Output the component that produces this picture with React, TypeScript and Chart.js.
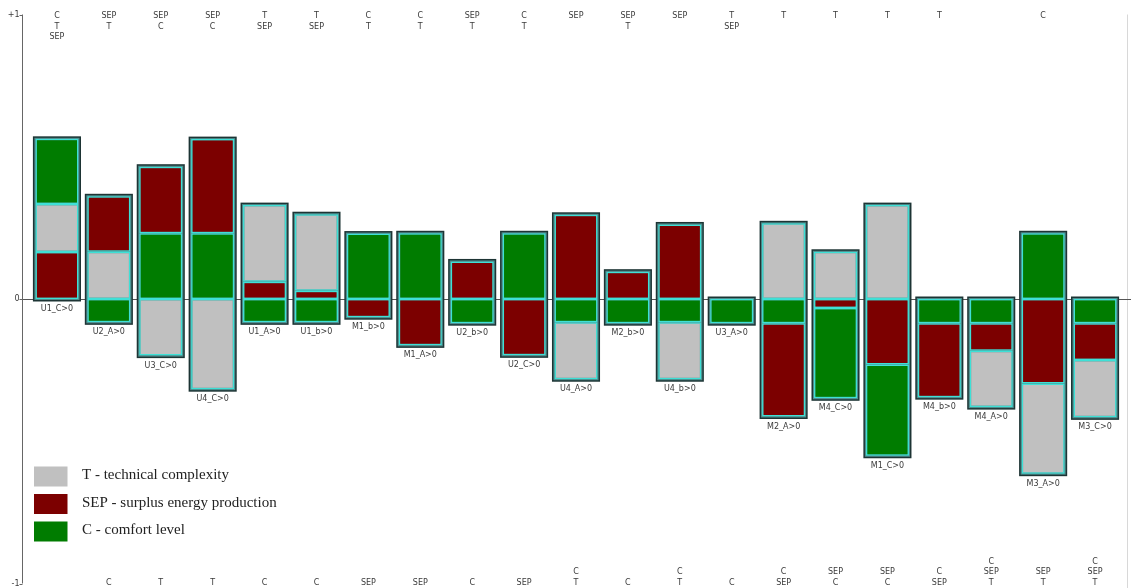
import { useEffect, useRef } from 'react';
import { Chart, registerables } from 'chart.js';

Chart.register(...registerables);

const categories = [
  'U1_C>0', 'U2_A>0', 'U3_C>0', 'U4_C>0', 'U1_A>0', 'U1_b>0', 'M1_b>0', 'M1_A>0',
  'U2_b>0', 'U2_C>0', 'U4_A>0', 'M2_b>0', 'U4_b>0', 'U3_A>0', 'M2_A>0', 'M4_C>0',
  'M1_C>0', 'M4_b>0', 'M4_A>0', 'M3_A>0', 'M3_C>0',
];

// T - technical complexity
const tValues = [
  0.169, 0.166, -0.199, -0.317, 0.269, 0.269, 0, 0,
  0, 0, -0.2, 0, -0.2, 0, 0.266, 0.166,
  0.33, 0, -0.198, -0.317, -0.202,
];

// SEP - surplus energy production
const sepValues = [
  0.165, 0.195, 0.234, 0.331, 0.061, 0.029, -0.064, -0.163,
  0.132, -0.198, 0.296, 0.096, 0.262, 0, -0.328, -0.032,
  -0.23, -0.26, -0.097, -0.297, -0.129,
];

// C - comfort level
const cValues = [
  0.229, -0.082, 0.231, 0.231, -0.082, -0.082, 0.23, 0.231,
  -0.085, 0.231, -0.082, -0.085, -0.082, -0.085, -0.085, -0.317,
  -0.321, -0.085, -0.085, 0.231, -0.085,
];

// labels above the plot (top of stack first) and below (nearest zero first)
const topLabels: string[][] = [
  ['C', 'T', 'SEP'], ['SEP', 'T'], ['SEP', 'C'], ['SEP', 'C'], ['T', 'SEP'], ['T', 'SEP'],
  ['C', 'T'], ['C', 'T'], ['SEP', 'T'], ['C', 'T'], ['SEP'], ['SEP', 'T'], ['SEP'],
  ['T', 'SEP'], ['T'], ['T'], ['T'], ['T'], [], ['C'], [],
];
const bottomLabels: string[][] = [
  [], ['C'], ['T'], ['T'], ['C'], ['C'], ['SEP'], ['SEP'], ['C'], ['SEP'], ['C', 'T'],
  ['C'], ['C', 'T'], ['C'], ['C', 'SEP'], ['SEP', 'C'], ['SEP', 'C'], ['C', 'SEP'],
  ['C', 'SEP', 'T'], ['SEP', 'T'], ['C', 'SEP', 'T'],
];

const yTickLabels = ['+1', '0', '-1'];
const yTickValues = [1, 0, -1];

const legendKeys = ['T', 'SEP', 'C'];
const legendTexts = ['T - technical complexity', 'SEP - surplus energy production', 'C - comfort level'];

const colorOf: Record<string, string> = { T: '#c0c0c0', SEP: '#7c0000', C: '#007c00' };
const SEG_BORDER = '#3ee0d6';
const SMALL_FONT = '8px "DejaVu Sans", sans-serif';
const TEXT_COLOR = '#3a3a3a';

function valueOf(key: string, i: number): number {
  if (key === 'T') return tValues[i];
  if (key === 'SEP') return sepValues[i];
  return cValues[i];
}

function buildDatasets() {
  const datasets: any[] = [];
  const sides: Array<'pos' | 'neg'> = ['pos', 'neg'];
  for (const side of sides) {
    for (let k = 0; k < 3; k++) {
      const data: any[] = [];
      const bg: string[] = [];
      categories.forEach((_, i) => {
        const order = side === 'pos' ? [...topLabels[i]].reverse() : [...bottomLabels[i]];
        const segs = order
          .map((key) => ({ key, v: valueOf(key, i) }))
          .filter((s) => (side === 'pos' ? s.v > 0 : s.v < 0));
        let acc = 0;
        let found: any = null;
        segs.forEach((s, idx) => {
          const start = acc;
          acc += s.v;
          if (idx === k) found = { range: [start, acc], key: s.key };
        });
        data.push(found ? found.range : null);
        bg.push(found ? colorOf[found.key] : 'rgba(0,0,0,0)');
      });
      datasets.push({
        label: `${side}${k}`,
        data,
        backgroundColor: bg,
        borderColor: SEG_BORDER,
        borderWidth: 1.5,
        borderSkipped: false,
        grouped: false,
        barPercentage: 0.83,
        categoryPercentage: 1,
      });
    }
  }
  return datasets;
}

const decorPlugin = {
  id: 'decor',
  beforeDatasetsDraw(chart: any) {
    const ctx = chart.ctx;
    const area = chart.chartArea;
    const y = chart.scales.y;
    const zeroY = Math.round(y.getPixelForValue(0)) + 0.5;
    const axisX = Math.round(area.left - 9) + 0.5;
    ctx.save();
    // right faint frame line
    ctx.strokeStyle = '#d8d8d8';
    ctx.lineWidth = 1;
    ctx.beginPath();
    ctx.moveTo(1127.5, y.getPixelForValue(1));
    ctx.lineTo(1127.5, chart.height);
    ctx.stroke();
    // zero line
    ctx.strokeStyle = '#555';
    ctx.beginPath();
    ctx.moveTo(axisX, zeroY);
    ctx.lineTo(chart.width, zeroY);
    ctx.stroke();
    // y axis
    ctx.strokeStyle = '#666';
    ctx.beginPath();
    ctx.moveTo(axisX, y.getPixelForValue(1));
    ctx.lineTo(axisX, y.getPixelForValue(-1));
    ctx.stroke();
    yTickValues.forEach((v) => {
      const py = Math.round(y.getPixelForValue(v)) + 0.5;
      ctx.beginPath();
      ctx.moveTo(axisX - 3, py);
      ctx.lineTo(axisX, py);
      ctx.stroke();
    });
    // bar frames
    categories.forEach((_, i) => {
      let top = Infinity;
      let bottom = -Infinity;
      let left = Infinity;
      let right = -Infinity;
      chart.data.datasets.forEach((ds: any, d: number) => {
        if (!ds.data[i]) return;
        const el = chart.getDatasetMeta(d).data[i];
        top = Math.min(top, el.y, el.base);
        bottom = Math.max(bottom, el.y, el.base);
        left = Math.min(left, el.x - el.width / 2);
        right = Math.max(right, el.x + el.width / 2);
      });
      if (!isFinite(top)) return;
      ctx.fillStyle = '#1d3434';
      ctx.fillRect(left - 2.5, top - 2.5, right - left + 5, bottom - top + 5);
      ctx.fillStyle = '#4f8d8d';
      ctx.fillRect(left - 1, top - 1, right - left + 2, bottom - top + 2);
    });
    ctx.restore();
  },
  afterDatasetsDraw(chart: any) {
    const ctx = chart.ctx;
    const area = chart.chartArea;
    const y = chart.scales.y;
    const x = chart.scales.x;
    const axisX = Math.round(area.left - 9) + 0.5;
    ctx.save();
    ctx.font = SMALL_FONT;
    ctx.fillStyle = TEXT_COLOR;
    ctx.textBaseline = 'middle';
    // y tick labels
    ctx.textAlign = 'right';
    yTickLabels.forEach((lab, j) => {
      ctx.fillText(lab, axisX - 3, y.getPixelForValue(yTickValues[j]));
    });
    ctx.textAlign = 'center';
    categories.forEach((cat, i) => {
      const cx = x.getPixelForValue(i);
      // category label below bar
      let bottom = y.getPixelForValue(0);
      chart.data.datasets.forEach((ds: any, d: number) => {
        if (!ds.data[i]) return;
        const el = chart.getDatasetMeta(d).data[i];
        bottom = Math.max(bottom, el.y, el.base);
      });
      ctx.fillText(cat, cx, bottom + 10);
      // top labels
      topLabels[i].forEach((lab, j) => {
        ctx.fillText(lab, cx, 16 + j * 10.7);
      });
      // bottom labels
      const n = bottomLabels[i].length;
      bottomLabels[i].forEach((lab, j) => {
        ctx.fillText(lab, cx, 583 - (n - 1 - j) * 10.6);
      });
    });
    // legend
    ctx.font = '15px "Liberation Serif", "Times New Roman", serif';
    ctx.textAlign = 'left';
    ctx.fillStyle = '#222';
    legendKeys.forEach((key, j) => {
      const cy = 476.5 + j * 27.5;
      ctx.fillStyle = colorOf[key];
      ctx.fillRect(34, cy - 10, 33.5, 20);
      ctx.fillStyle = '#222';
      ctx.fillText(legendTexts[j], 82, cy - 1);
    });
    ctx.restore();
  },
};

export default function App() {
  const canvasRef = useRef<HTMLCanvasElement | null>(null);

  useEffect(() => {
    if (!canvasRef.current) return;
    const chart = new Chart(canvasRef.current, {
      type: 'bar',
      data: { labels: categories, datasets: buildDatasets() },
      options: {
        animation: false,
        responsive: true,
        maintainAspectRatio: false,
        layout: { padding: { left: 31, right: 10, top: 14.5, bottom: 4.5 } },
        plugins: { legend: { display: false }, tooltip: { enabled: false } },
        scales: {
          x: { type: 'category', display: false, offset: true },
          y: { type: 'linear', min: -1, max: 1, display: false },
        },
      },
      plugins: [decorPlugin],
    });
    return () => chart.destroy();
  }, []);

  return (
    <div style={{ position: 'fixed', left: 0, top: 0, width: 1131, height: 588, background: '#fff' }}>
      <canvas ref={canvasRef} />
    </div>
  );
}
